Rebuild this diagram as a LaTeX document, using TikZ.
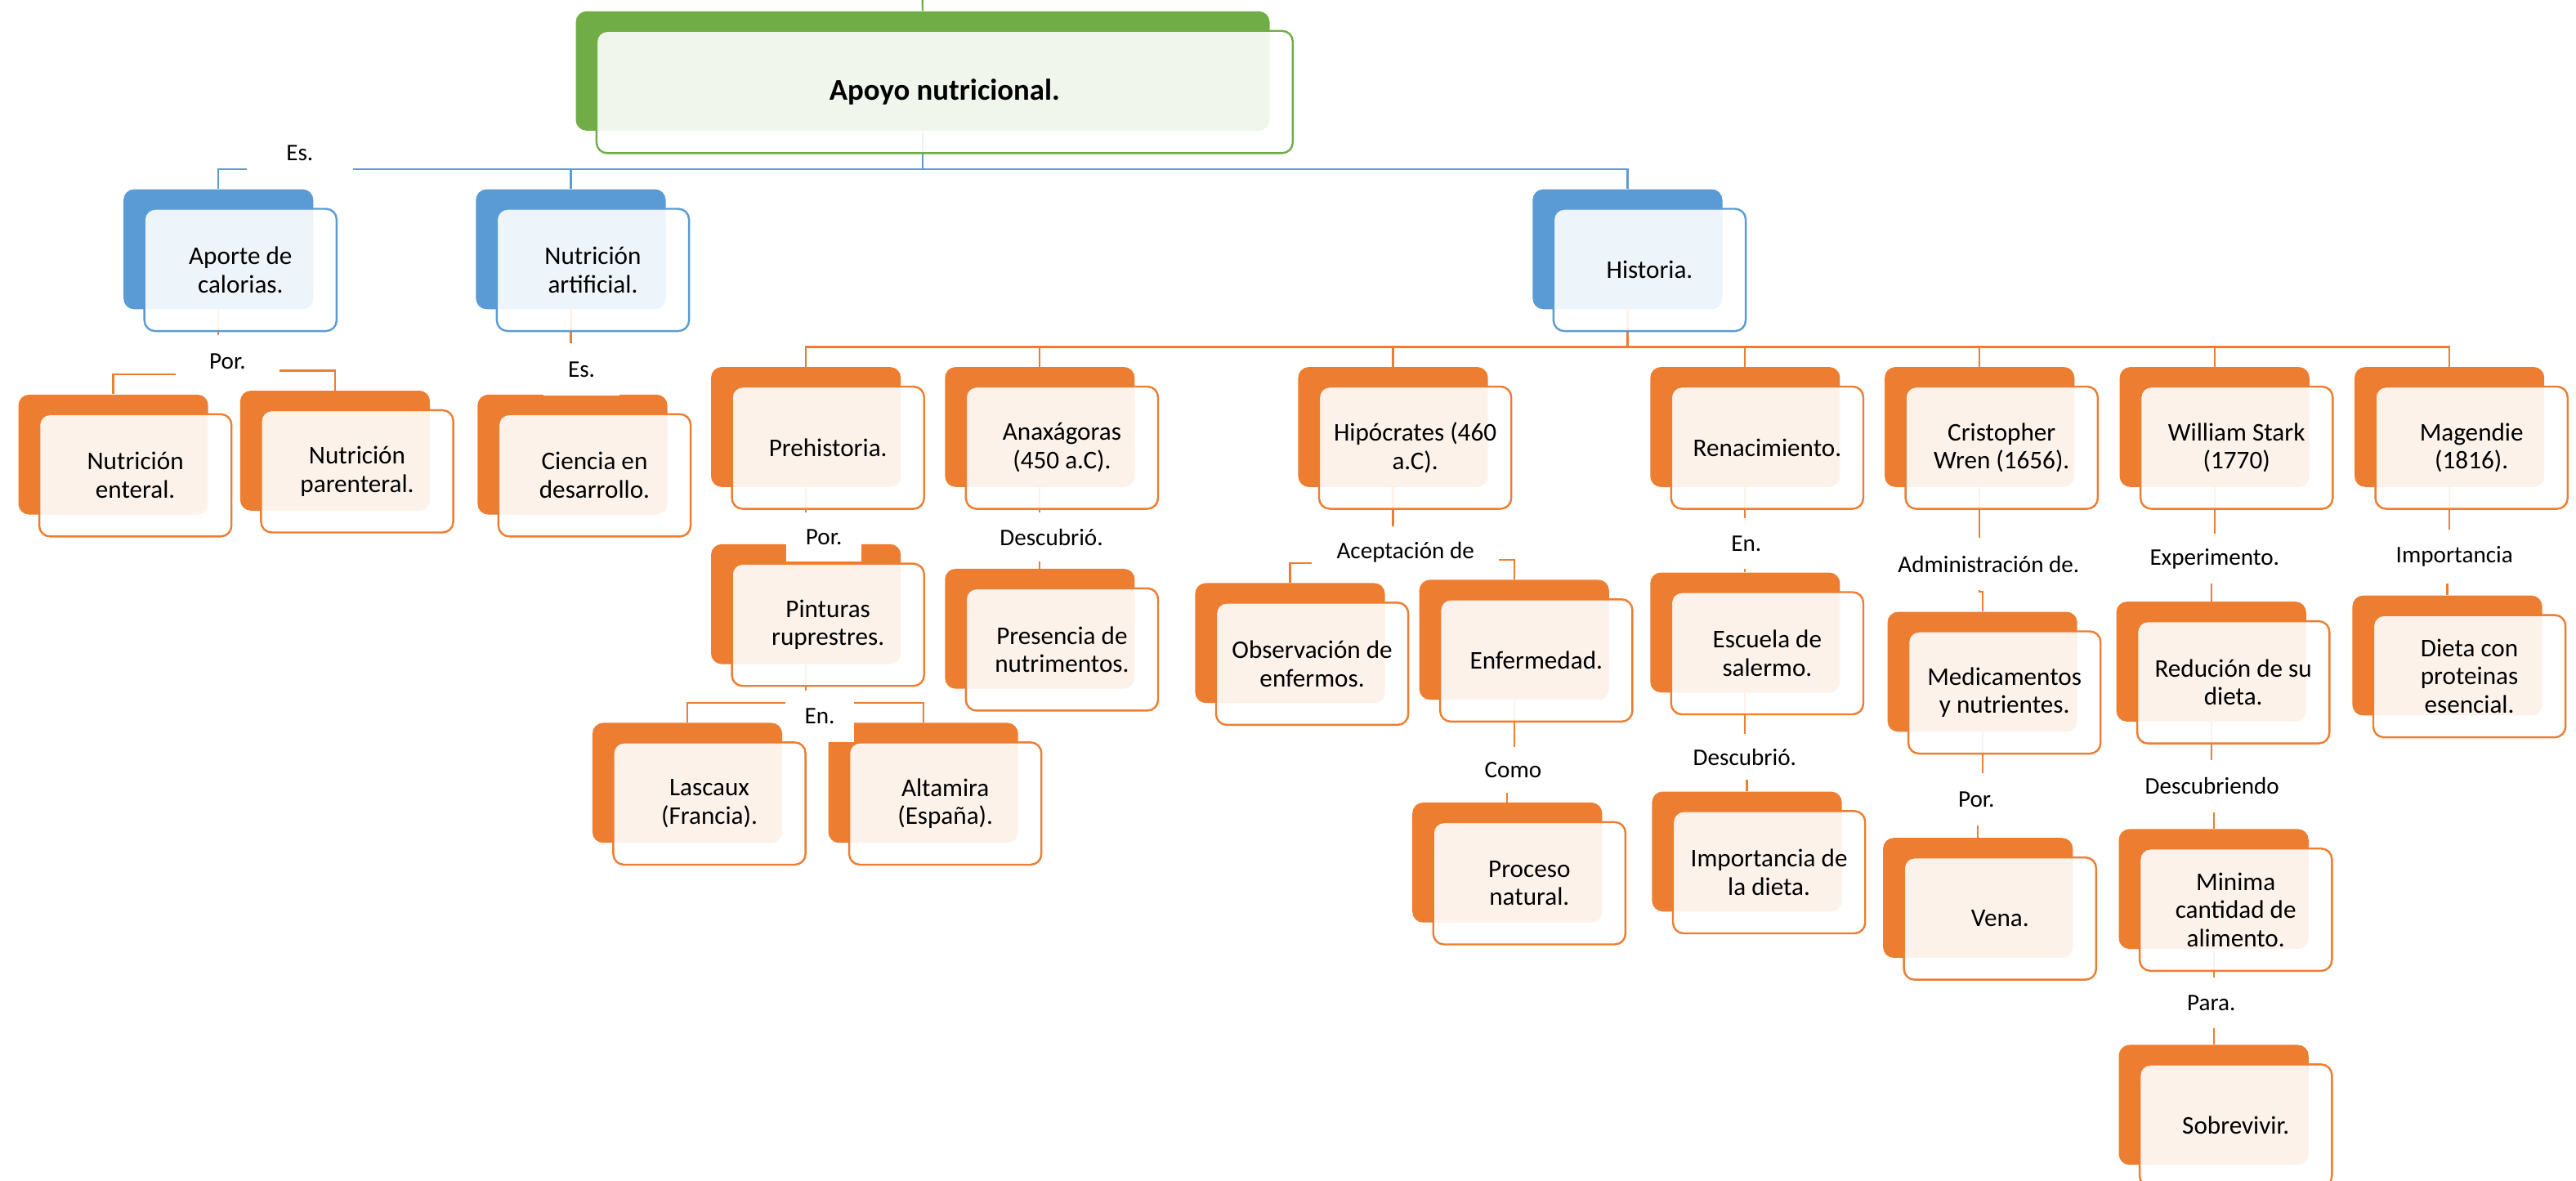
\documentclass[tikz,border=0pt]{standalone}
\usepackage{fontspec}
\setmainfont{Carlito}
\usetikzlibrary{calc}
\definecolor{cblue}{RGB}{91,155,213}
\definecolor{corange}{RGB}{237,125,49}
\definecolor{cgreen}{RGB}{112,173,71}
\tikzset{
  bk/.style={rectangle, rounded corners=6.5pt, minimum width=115.5pt, minimum height=73pt, inner sep=0pt, draw=none},
  fr/.style={rectangle, rounded corners=6.5pt, minimum width=117pt, minimum height=74.4pt, inner sep=0pt,
    fill=white, fill opacity=0.9, text opacity=1, line width=1.2pt, align=center, text=black,
    font=\fontsize{15.5}{17.2}\selectfont},
  lab/.style={rectangle, fill=white, inner sep=0pt, text=black, font=\fontsize{14.5}{17}\selectfont},
  ln/.style={line width=1.1pt},
}
\newcommand\bkbox[4]{\node[bk, fill=#2, anchor=north west] (#1-b) at (#3,#4) {};}
\newcommand\frbox[3]{\node[fr, draw=#2, anchor=north west] (#1) at ($(#1-b.north west)+(12.3pt,-11.5pt)$) {#3};}
\newcommand\elbow[3]{\draw[ln, draw=#1] (#2-b.south) |- ($(#3-b.north)+(0pt,12pt)$) -- (#3-b.north);}
\begin{document}
\begin{tikzpicture}[x=1pt,y=-1pt]
\fill[white] (0,0) rectangle (1568,718.8);
\useasboundingbox (0,0) rectangle (1568,718.8);
% ---------- back boxes ----------
\node[bk, fill=cgreen, anchor=north west, minimum width=422.3pt, minimum height=72.6pt] (apoyo-b) at (350.3,6.7) {};
\bkbox{aporte}{cblue}{75}{115}
\bkbox{nart}{cblue}{289.5}{115}
\bkbox{hist}{cblue}{932.7}{115}
\bkbox{nent}{corange}{11}{240}
\bkbox{npar}{corange}{146}{237.6}
\bkbox{ciencia}{corange}{290.5}{240}
\bkbox{prehist}{corange}{432.6}{223.2}
\bkbox{anax}{corange}{575}{223.2}
\bkbox{hipo}{corange}{790}{223.2}
\bkbox{renac}{corange}{1004.3}{223.2}
\bkbox{cris}{corange}{1147}{223.2}
\bkbox{will}{corange}{1290}{223.2}
\bkbox{mag}{corange}{1433}{223.2}
\bkbox{pint}{corange}{432.6}{331}
\bkbox{pres}{corange}{575}{346}
\bkbox{lasc}{corange}{360.4}{439.8}
\bkbox{alta}{corange}{504}{439.8}
\bkbox{obs}{corange}{727.3}{354.7}
\bkbox{enf}{corange}{863.7}{352.7}
\bkbox{proc}{corange}{859.5}{488.3}
\bkbox{escu}{corange}{1004.3}{348.3}
\bkbox{impd}{corange}{1005.4}{481.6}
\bkbox{medi}{corange}{1148.7}{372.2}
\bkbox{vena}{corange}{1146}{509.8}
\bkbox{redu}{corange}{1288}{366}
\bkbox{mini}{corange}{1289.5}{504.4}
\bkbox{sobr}{corange}{1289.5}{635.8}
\bkbox{dieta}{corange}{1431.7}{362.3}
% ---------- connectors ----------
\coordinate (top) at (561.45,0);
\draw[ln, draw=cgreen] (top) -- (apoyo-b.north);
\elbow{cblue}{apoyo}{aporte}
\elbow{cblue}{apoyo}{nart}
\elbow{cblue}{apoyo}{hist}
\elbow{corange}{aporte}{nent}
\elbow{corange}{aporte}{npar}
\elbow{corange}{nart}{ciencia}
\elbow{corange}{hist}{prehist}
\elbow{corange}{hist}{anax}
\elbow{corange}{hist}{hipo}
\elbow{corange}{hist}{renac}
\elbow{corange}{hist}{cris}
\elbow{corange}{hist}{will}
\elbow{corange}{hist}{mag}
\elbow{corange}{prehist}{pint}
\elbow{corange}{pint}{lasc}
\elbow{corange}{pint}{alta}
\elbow{corange}{anax}{pres}
\elbow{corange}{hipo}{obs}
\elbow{corange}{hipo}{enf}
\elbow{corange}{enf}{proc}
\elbow{corange}{renac}{escu}
\elbow{corange}{escu}{impd}
\elbow{corange}{cris}{medi}
\elbow{corange}{medi}{vena}
\elbow{corange}{will}{redu}
\elbow{corange}{redu}{mini}
\elbow{corange}{mini}{sobr}
\elbow{corange}{mag}{dieta}
% ---------- labels ----------
\node[lab, minimum width=65pt, minimum height=30pt] (l1) at (182.5,93) {Es.};
\node[lab, minimum width=63pt, minimum height=32pt] (l2) at (138.5,220) {Por.};
\node[lab, minimum width=46pt, minimum height=32pt] (l3) at (354,225) {Es.};
\node[lab, minimum width=46pt, minimum height=30pt] (l4) at (501.5,327) {Por.};
\node[lab, minimum width=42pt, minimum height=31pt] (l5) at (499,436) {En.};
\node[lab, minimum width=70pt, minimum height=30pt] (l6) at (640,327) {Descubrió.};
\node[lab, minimum width=114pt, minimum height=31pt] (l7) at (855.5,336) {Aceptación de};
\node[lab, minimum width=50pt, minimum height=28pt] (l8) at (921,468.5) {Como};
\node[lab, minimum width=42pt, minimum height=31pt] (l9) at (1063,330.7) {En.};
\node[lab, minimum width=70pt, minimum height=28pt] (l10) at (1062,460.7) {Descubrió.};
\node[lab, minimum width=125pt, minimum height=32pt] (l11) at (1210.5,343.4) {Administración de.};
\node[lab, minimum width=46pt, minimum height=32pt] (l12) at (1203,486.4) {Por.};
\node[lab, minimum width=85pt, minimum height=30pt] (l13) at (1348,340) {Experimento.};
\node[lab, minimum width=90pt, minimum height=32pt] (l14) at (1346.5,478.4) {Descubriendo};
\node[lab, minimum width=46pt, minimum height=31pt] (l15) at (1346,610.3) {Para.};
\node[lab, minimum width=80pt, minimum height=33pt] (l16) at (1494,338.7) {Importancia};
% ---------- front boxes ----------
\node[fr, draw=cgreen, anchor=north west, minimum width=423.8pt, minimum height=74.4pt,
  font=\fontsize{18.3}{21}\selectfont\bfseries] (apoyo) at ($(apoyo-b.north west)+(12.2pt,-11.5pt)$) {Apoyo nutricional.};
\frbox{aporte}{cblue}{Aporte de\\calorias.}
\frbox{nart}{cblue}{Nutrición\\artificial.}
\frbox{hist}{cblue}{Historia.}
\frbox{nent}{corange}{Nutrición\\enteral.}
\frbox{npar}{corange}{Nutrición\\parenteral.}
\frbox{ciencia}{corange}{Ciencia en\\desarrollo.}
\frbox{prehist}{corange}{Prehistoria.}
\frbox{anax}{corange}{Anaxágoras\\(450 a.C).}
\frbox{hipo}{corange}{Hipócrates (460\\a.C).}
\frbox{renac}{corange}{Renacimiento.}
\frbox{cris}{corange}{Cristopher\\Wren (1656).}
\frbox{will}{corange}{William Stark\\(1770)}
\frbox{mag}{corange}{Magendie\\(1816).}
\frbox{pint}{corange}{Pinturas\\ruprestres.}
\frbox{pres}{corange}{Presencia de\\nutrimentos.}
\frbox{lasc}{corange}{Lascaux\\(Francia).}
\frbox{alta}{corange}{Altamira\\(España).}
\frbox{obs}{corange}{Observación de\\enfermos.}
\frbox{enf}{corange}{Enfermedad.}
\frbox{proc}{corange}{Proceso\\natural.}
\frbox{escu}{corange}{Escuela de\\salermo.}
\frbox{impd}{corange}{Importancia de\\la dieta.}
\frbox{medi}{corange}{Medicamentos\\y nutrientes.}
\frbox{vena}{corange}{Vena.}
\frbox{redu}{corange}{Redución de su\\dieta.}
\frbox{mini}{corange}{Minima\\cantidad de\\alimento.}
\frbox{sobr}{corange}{Sobrevivir.}
\frbox{dieta}{corange}{Dieta con\\proteinas\\esencial.}
\end{tikzpicture}
\end{document}
